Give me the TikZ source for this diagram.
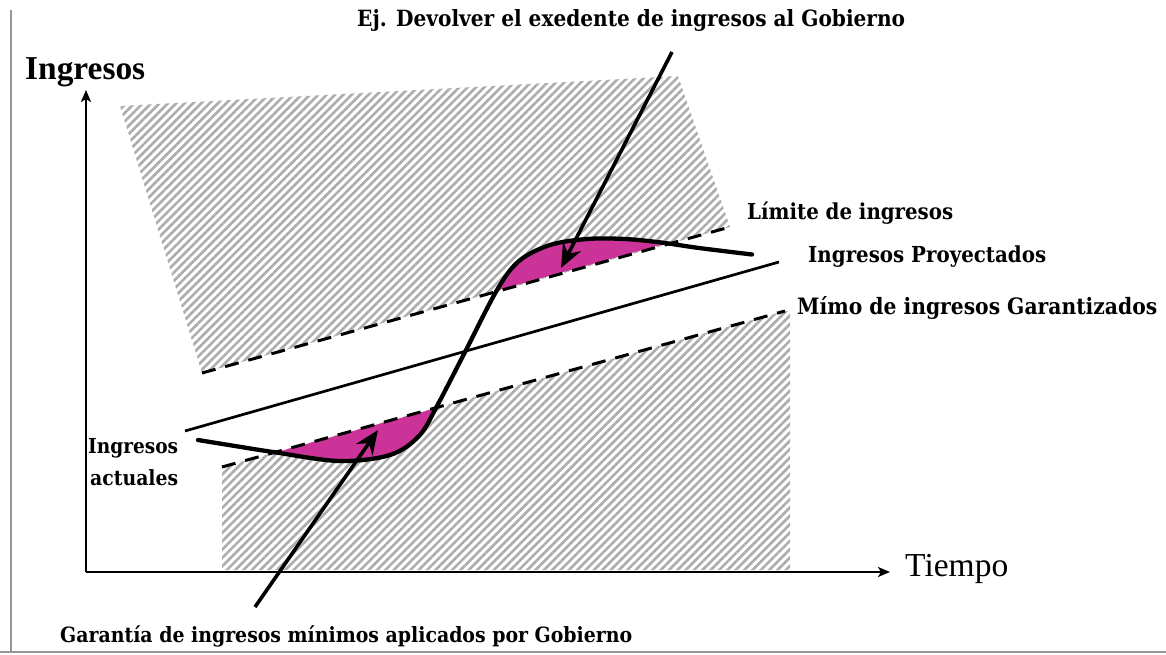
\documentclass[tikz,border=0pt]{standalone}
\usepackage{fontspec}
\setmainfont{DejaVu Serif Condensed}
\newfontfamily\axisfont{Liberation Serif}
\usetikzlibrary{arrows.meta,patterns.meta}
\definecolor{mag}{RGB}{204,51,153}
\definecolor{frame}{RGB}{150,150,150}
\definecolor{hatchgray}{RGB}{172,172,172}
\newcommand{\fitw}[2]{\resizebox{#1pt}{!}{#2}}
\begin{document}
\begin{tikzpicture}[x=1pt,y=-1pt,
  hatch/.style={pattern={Lines[angle=45,distance=5.9pt,line width=2.6pt]},pattern color=hatchgray},
  bound/.style={line width=3pt,dash pattern=on 14pt off 10pt},
  proj/.style={line width=2.7pt},
  curve/.style={line width=4.3pt,line cap=round},
  bigarrow/.style={line width=3.6pt,-{Stealth[length=24pt,width=20pt,inset=8pt]}},
  axis/.style={line width=2pt,-{Stealth[length=12pt,width=10pt,inset=3pt]}},
  lbl/.style={inner sep=0pt,font=\bfseries},
  biglbl/.style={inner sep=0pt,font=\axisfont},
  framel/.style={draw=frame,line width=1.5pt}]
\useasboundingbox (0,0) rectangle (1166,655);
% frame
\coordinate (f1) at (11,10);
\coordinate (f2) at (11,652);
\coordinate (f3) at (0,652);
\coordinate (f4) at (1166,652);
\draw[framel] (f1) -- (f2);
\draw[framel] (f3) -- (f4);
% line end points
\coordinate (lim1) at (202,373);
\coordinate (lim2) at (730,227);
\coordinate (pro1) at (185,431);
\coordinate (pro2) at (779,262);
\coordinate (min1) at (222,467);
\coordinate (min2) at (785,311);
% hatched regions
\fill[hatch] (120,106) -- (678,76) -- (lim2) -- (lim1) -- cycle;
\fill[hatch] (min1) -- (min2) -- (790,311) -- (790,570) -- (222,570) -- cycle;
\def\curvepath{plot[smooth,tension=0.55] coordinates {(198,440) (235,446) (273,452) (339,461) (390,455) (419,436) (437,406) (465,352) (497,290) (519,261) (550,245) (587,239) (625,239) (661,242.5) (699,248) (752,254.5)}}
% magenta upper
\begin{scope}
\clip (0,428.8) -- (1166,104.2) -- (1166,-100) -- (0,-100) -- cycle;
\fill[mag] \curvepath -- (752,700) -- (198,700) -- cycle;
\end{scope}
% magenta lower
\begin{scope}
\clip (0,528.4) -- (1166,207.0) -- (1166,800) -- (0,800) -- cycle;
\fill[mag] \curvepath -- (752,-100) -- (198,-100) -- cycle;
\end{scope}
% lines
\draw[bound] (lim1) -- (lim2);
\draw[bound] (min1) -- (min2);
\draw[proj] (pro1) -- (pro2);
\draw[curve] \curvepath;
% axes
\coordinate (o) at (86,572);
\coordinate (ytip) at (86,90);
\coordinate (xtip) at (890,572);
\draw[axis] (o) -- (ytip);
\draw[axis] (o) -- (xtip);
% arrows
\coordinate (a1s) at (672,52);
\coordinate (a1e) at (561,268);
\coordinate (a2s) at (255,607);
\coordinate (a2e) at (378,430);
\draw[bigarrow] (a1s) -- (a1e);
\draw[bigarrow] (a2s) -- (a2e);
% labels
\node[biglbl,anchor=west] (ing) at (25,72) {\fitw{120}{\bfseries Ingresos}};
\node[biglbl,anchor=west] (tie) at (905,569) {\fitw{103}{Tiempo}};
\node[lbl,anchor=west] (top) at (357,20) {\fitw{548}{Ej. Devolver el exedente de ingresos al Gobierno}};
\node[lbl,anchor=west] (limt) at (747,213) {\fitw{206}{Límite de ingresos}};
\node[lbl,anchor=west] (prot) at (808,257) {\fitw{238}{Ingresos Proyectados}};
\node[lbl,anchor=west] (mint) at (797,308) {\fitw{360}{Mímo de ingresos Garantizados}};
\node[lbl,anchor=west] (act1) at (88,448) {\fitw{90}{Ingresos}};
\node[lbl,anchor=west] (act2) at (90,478) {\fitw{88}{actuales}};
\node[lbl,anchor=west] (bot) at (60,636) {\fitw{572}{Garantía de ingresos mínimos aplicados por Gobierno}};
\end{tikzpicture}
\end{document}
